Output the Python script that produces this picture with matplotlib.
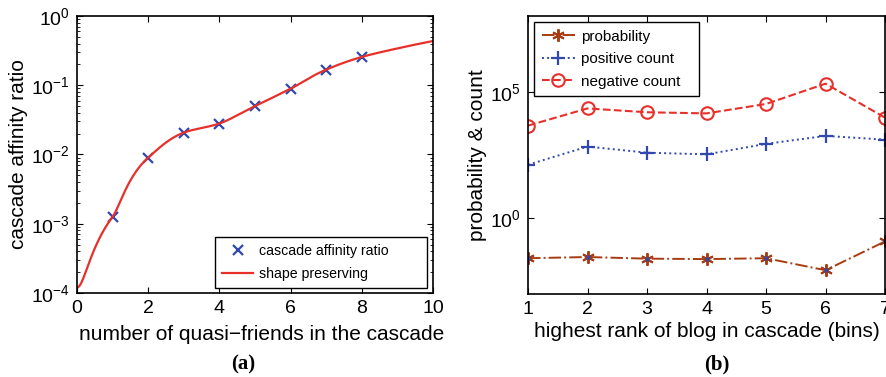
import numpy as np
import matplotlib
matplotlib.use("Agg")
import matplotlib.pyplot as plt
from matplotlib.ticker import LogLocator, NullLocator

plt.rcParams['font.family'] = ['Liberation Sans', 'DejaVu Sans']
plt.rcParams['mathtext.fontset'] = 'custom'
plt.rcParams['mathtext.rm'] = 'Liberation Sans'

# panel (a): cascade affinity ratio vs number of quasi-friends
friends = [1, 2, 3, 4, 5, 6, 7, 8]
affinity = [1.26e-3, 9.0e-3, 2.07e-2, 2.8e-2, 5.0e-2, 8.9e-2, 0.168, 0.256]
# knots of the shape preserving fit (includes ends of the curve)
fit_x = [0, 1, 2, 3, 4, 5, 6, 7, 8, 9, 10]
fit_y = [1.2e-4, 1.26e-3, 9.0e-3, 2.07e-2, 2.8e-2, 5.0e-2, 8.9e-2, 0.168, 0.256, 0.34, 0.435]

# panel (b): probability & counts vs highest rank bin
bins = [1, 2, 3, 4, 5, 6, 7]
probability = [0.026, 0.029, 0.025, 0.024, 0.026, 0.0087, 0.12]
pos_count = [130, 680, 390, 335, 870, 1800, 1280]
neg_count = [4600, 22000, 15500, 14000, 33000, 210000, 9500]


def pchip(x, y, xq):
    # MATLAB-style shape preserving piecewise cubic
    x = np.asarray(x, float)
    y = np.asarray(y, float)
    h = np.diff(x)
    d = np.diff(y) / h
    n = len(x)
    m = np.zeros(n)
    for k in range(1, n - 1):
        if d[k - 1] * d[k] > 0:
            w1 = 2 * h[k] + h[k - 1]
            w2 = h[k] + 2 * h[k - 1]
            m[k] = (w1 + w2) / (w1 / d[k - 1] + w2 / d[k])
    def end_slope(h0, h1, d0, d1):
        s = ((2 * h0 + h1) * d0 - h0 * d1) / (h0 + h1)
        if np.sign(s) != np.sign(d0):
            s = 0.0
        elif np.sign(d0) != np.sign(d1) and abs(s) > abs(3 * d0):
            s = 3 * d0
        return s
    m[0] = end_slope(h[0], h[1], d[0], d[1])
    m[-1] = end_slope(h[-1], h[-2], d[-1], d[-2])
    idx = np.clip(np.searchsorted(x, xq) - 1, 0, n - 2)
    t = (xq - x[idx]) / h[idx]
    h00 = 2 * t**3 - 3 * t**2 + 1
    h10 = t**3 - 2 * t**2 + t
    h01 = -2 * t**3 + 3 * t**2
    h11 = t**3 - t**2
    return h00 * y[idx] + h10 * h[idx] * m[idx] + h01 * y[idx + 1] + h11 * h[idx] * m[idx + 1]


fig = plt.figure(figsize=(8.87, 3.77), dpi=100)

red = '#e8302a'
blue = '#3048b0'
brown = '#a83c10'

# ---- (a)
ax1 = fig.add_axes([0.0868, 0.2228, 0.4013, 0.7348])
xs = np.linspace(0, 10, 400)
ax1.plot(friends, affinity, 'x', color=blue, ms=7, mew=1.6, label='cascade affinity ratio')
ax1.plot(xs, pchip(fit_x, fit_y, xs), '-', color=red, lw=1.6, label='shape preserving')
ax1.set_yscale('log')
ax1.set_xlim(0, 10)
ax1.set_ylim(1e-4, 1)
ax1.set_xticks([0, 2, 4, 6, 8, 10])
ax1.yaxis.set_major_locator(LogLocator(base=10, numticks=10))
ax1.yaxis.set_minor_locator(LogLocator(base=10, subs=np.arange(2, 10), numticks=20))
ax1.tick_params(which='both', direction='in', top=True, right=True, labelsize=14)
ax1.tick_params(which='major', length=4, pad=5)
ax1.tick_params(which='minor', length=2)
ax1.set_xlabel('number of quasi\u2212friends in the cascade', fontsize=15, labelpad=7)
ax1.xaxis.set_label_coords(0.52, -0.115)
ax1.set_ylabel('cascade affinity ratio', fontsize=15, labelpad=2)
leg1 = ax1.legend(loc='lower left', mode='expand', fontsize=10.2, fancybox=False,
                  edgecolor='black', handlelength=2.2, handletextpad=0.4, borderpad=0.5,
                  borderaxespad=0, labelspacing=0.6, framealpha=1,
                  bbox_to_anchor=(0.388, 0.018, 0.595, 0.17))
leg1.get_frame().set_linewidth(1.0)
for s in ax1.spines.values():
    s.set_linewidth(1.2)
fig.text(0.274, 0.02, '(a)', fontsize=15, fontweight='bold', family='Liberation Serif', ha='center')

# ---- (b)
ax2 = fig.add_axes([0.5953, 0.2202, 0.4025, 0.7374])
ax2.plot(bins, probability, linestyle='-.', color=brown, marker=(6, 2, 0), ms=9, mew=1.4,
         lw=1.4, label='probability')
ax2.plot(bins, probability, linestyle='none', color=blue, marker='x', ms=3, mew=1.0)
ax2.plot(bins, pos_count, linestyle=':', color=blue, marker='+', ms=10, mew=1.6,
         lw=1.4, label='positive count')
ax2.plot(bins, neg_count, linestyle='--', color=red, marker='o', mfc='none', ms=9, mew=1.5,
         lw=1.5, label='negative count')
ax2.set_yscale('log')
ax2.set_xlim(1, 7)
ax2.set_ylim(1e-3, 1e8)
ax2.set_xticks(bins)
ax2.set_yticks([1e0, 1e5])
ax2.yaxis.set_minor_locator(NullLocator())
ax2.tick_params(which='both', direction='in', top=True, right=True, labelsize=14, length=4, pad=5)
ax2.set_xlabel('highest rank of blog in cascade (bins)', fontsize=15, labelpad=3)
ax2.set_ylabel('probability & count', fontsize=15, labelpad=2)
leg2 = ax2.legend(loc='upper left', mode='expand', fontsize=11, fancybox=False,
                  edgecolor='black', handlelength=2.15, handletextpad=0.4, borderpad=0.5,
                  borderaxespad=0, labelspacing=0.55, framealpha=1,
                  bbox_to_anchor=(0.017, 0.73, 0.462, 0.248))
leg2.get_frame().set_linewidth(1.0)
for s in ax2.spines.values():
    s.set_linewidth(1.2)
fig.text(0.808, 0.02, '(b)', fontsize=15, fontweight='bold', family='Liberation Serif', ha='center')

fig.savefig('out.png', dpi=100)
